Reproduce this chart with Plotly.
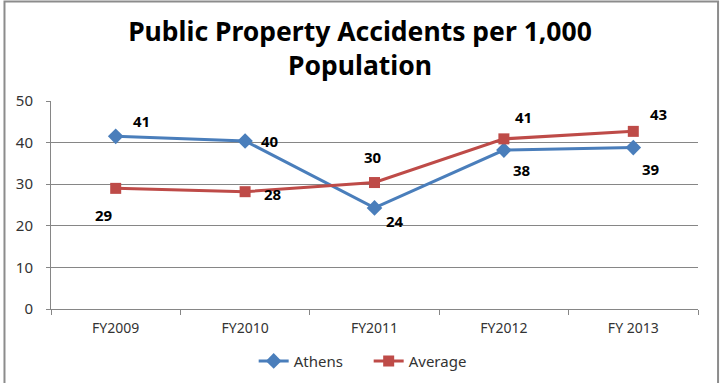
import plotly.graph_objects as go

categories = ["FY2009", "FY2010", "FY2011", "FY2012", "FY 2013"]
athens = [41.5, 40.4, 24.3, 38.2, 38.8]
average = [29.0, 28.2, 30.4, 40.9, 42.7]
athens_labels = ["41", "40", "24", "38", "39"]
average_labels = ["29", "28", "30", "41", "43"]
y_ticks = [0, 10, 20, 30, 40, 50]

blue = "#4A7EBB"
red = "#BE4B48"

fig = go.Figure()
fig.add_trace(go.Scatter(x=categories, y=athens, name="Athens", mode="lines+markers",
                         line=dict(color=blue, width=3),
                         marker=dict(symbol="diamond", size=12, color=blue)))
fig.add_trace(go.Scatter(x=categories, y=average, name="Average", mode="lines+markers",
                         line=dict(color=red, width=3),
                         marker=dict(symbol="square", size=11, color=red)))

athens_off = [(26, 15), (25, 0), (20, -13), (18, -20), (18, -21)]
average_off = [(-12, -27), (28, -2), (-2, 26), (20, 22), (25, 17)]
lab_font = dict(family="Noto Sans", size=15, color="#000000")
for i, c in enumerate(categories):
    fig.add_annotation(x=c, y=athens[i], text="<b>%s</b>" % athens_labels[i], showarrow=False,
                       xshift=athens_off[i][0], yshift=athens_off[i][1], font=lab_font)
    fig.add_annotation(x=c, y=average[i], text="<b>%s</b>" % average_labels[i], showarrow=False,
                       xshift=average_off[i][0], yshift=average_off[i][1], font=lab_font)

fig.update_layout(
    width=723, height=383,
    margin=dict(l=51, r=25, t=101, b=74, autoexpand=False),
    paper_bgcolor="white", plot_bgcolor="white",
    title=dict(text="<b>Public Property Accidents per 1,000<br>Population</b>",
               x=0.4776, xanchor="center", xref="paper", yref="container", y=0.893, yanchor="top",
               font=dict(family="Noto Sans", size=26.5, color="#000000")),
    xaxis=dict(type="category", showgrid=False, showline=True, linecolor="#868686",
               ticks="outside", ticklen=5, tickcolor="#868686", tickson="boundaries",
               ticklabelstandoff=6, automargin=False,
               tickfont=dict(family="Noto Sans", size=14, color="#333333"), range=[-0.5, 4.5]),
    yaxis=dict(range=[0, 50], tickvals=y_ticks, showgrid=True, gridcolor="#868686", gridwidth=1,
               showline=True, linecolor="#868686", ticks="outside", ticklen=4, tickcolor="#868686",
               zeroline=False, ticklabelstandoff=10, automargin=False,
               tickfont=dict(family="Noto Sans", size=15, color="#333333")),
    legend=dict(orientation="h", x=0.491, xanchor="center", yref="container", y=0.057,
                yanchor="middle", entrywidth=70,
                font=dict(family="Noto Sans", size=15, color="#333333")),
    showlegend=True,
)
fig.add_shape(type="rect", xref="paper", yref="paper", x0=-0.0719, x1=1.031, y0=-0.42, y1=1.478,
              line=dict(color="#8C8C8C", width=2))

fig.write_html("out.html", config={"displayModeBar": False},
               post_script="document.body.style.margin='0px';")
